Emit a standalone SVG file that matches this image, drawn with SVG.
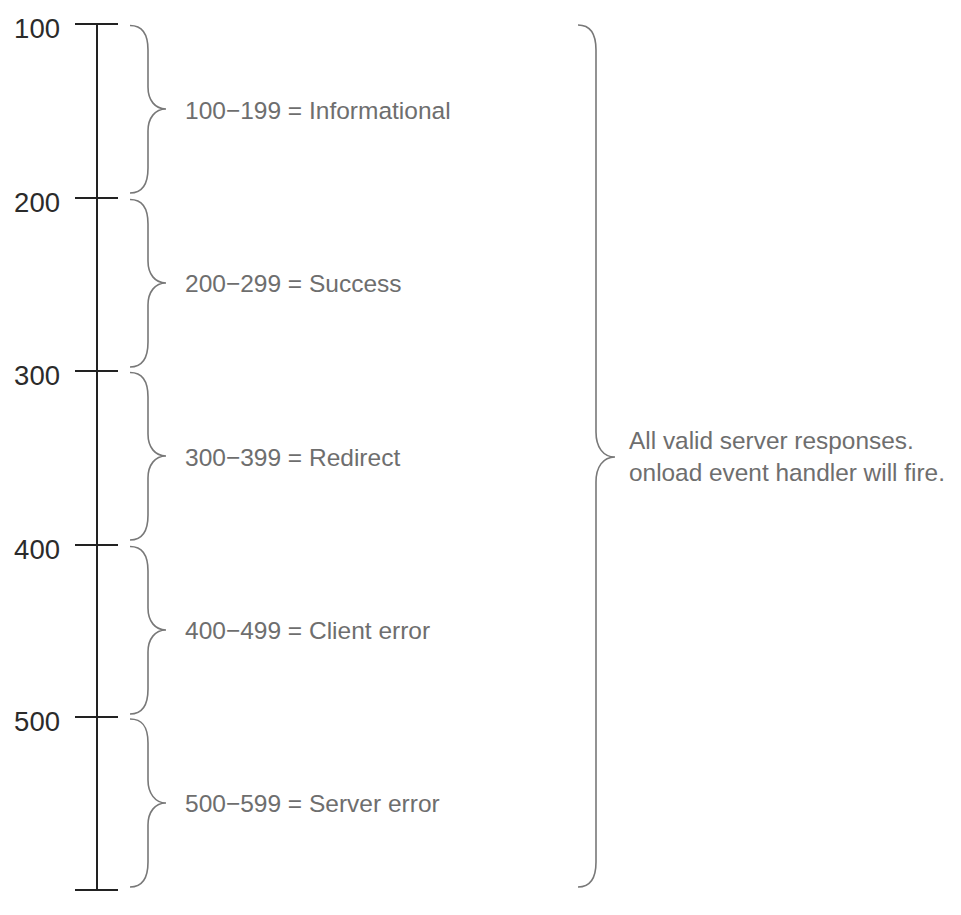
<svg xmlns="http://www.w3.org/2000/svg" width="961" height="915" viewBox="0 0 961 915">
<style>
.axis{stroke:#222;stroke-width:2;fill:none}
.brace{stroke:#787878;stroke-width:1.6;fill:none}
.num{font-family:"Liberation Sans",Arial,sans-serif;font-size:27.5px;fill:#2b2b2b;text-anchor:end}
.lbl{font-family:"Liberation Sans",Arial,sans-serif;font-size:24.5px;fill:#6e6e6e}
.note{font-family:"Liberation Sans",Arial,sans-serif;font-size:24.4px;fill:#6e6e6e}
</style>
<rect width="961" height="915" fill="#fff"/>
<g id="axis">
<line class="axis" x1="97" y1="24" x2="97" y2="890"/>
<line class="axis" x1="75" y1="24" x2="118" y2="24"/>
<line class="axis" x1="75" y1="198" x2="118" y2="198"/>
<line class="axis" x1="75" y1="371" x2="118" y2="371"/>
<line class="axis" x1="75" y1="545" x2="118" y2="545"/>
<line class="axis" x1="75" y1="717" x2="118" y2="717"/>
<line class="axis" x1="75" y1="890" x2="118" y2="890"/>
<text class="num" x="60" y="38">100</text>
<text class="num" x="60" y="212">200</text>
<text class="num" x="60" y="385">300</text>
<text class="num" x="60" y="559">400</text>
<text class="num" x="60" y="731">500</text>
</g>
<g id="range-100">
<path class="brace" d="M130,25.5 C142,25.5 148,33 148,50 L148,87 C148,100 155,109 166,109 C155,109 148,118 148,131 L148,168 C148,185 142,193 130,193"/>
<text class="lbl" x="185" y="119">100−199 = Informational</text>
</g>
<g id="range-200">
<path class="brace" d="M130,199.5 C142,199.5 148,207 148,224 L148,261 C148,274 155,283 166,283 C155,283 148,292 148,305 L148,342 C148,359 142,367 130,367"/>
<text class="lbl" x="185" y="292">200−299 = Success</text>
</g>
<g id="range-300">
<path class="brace" d="M130,372.5 C142,372.5 148,380 148,397 L148,434 C148,447 155,456 166,456 C155,456 148,465 148,478 L148,515 C148,532 142,540 130,540"/>
<text class="lbl" x="185" y="466">300−399 = Redirect</text>
</g>
<g id="range-400">
<path class="brace" d="M130,546.5 C142,546.5 148,554 148,571 L148,608 C148,621 155,630 166,630 C155,630 148,639 148,652 L148,689 C148,706 142,714 130,714"/>
<text class="lbl" x="185" y="639">400−499 = Client error</text>
</g>
<g id="range-500">
<path class="brace" d="M130,719 C142,719 148,726 148,743 L148,780 C148,793 155,803 166,803 C155,803 148,812 148,825 L148,862 C148,879 142,887 130,887"/>
<text class="lbl" x="185" y="812">500−599 = Server error</text>
</g>
<g id="all-valid">
<path class="brace" d="M578,25 C590,25 596,34 596,50 L596,432 C596,447 603,457 615,457 C603,457 596,467 596,482 L596,862 C596,878 590,887 578,887"/>
<text class="note" x="629" y="449">All valid server responses.</text>
<text class="note" x="629" y="481">onload event handler will fire.</text>
</g>
</svg>
